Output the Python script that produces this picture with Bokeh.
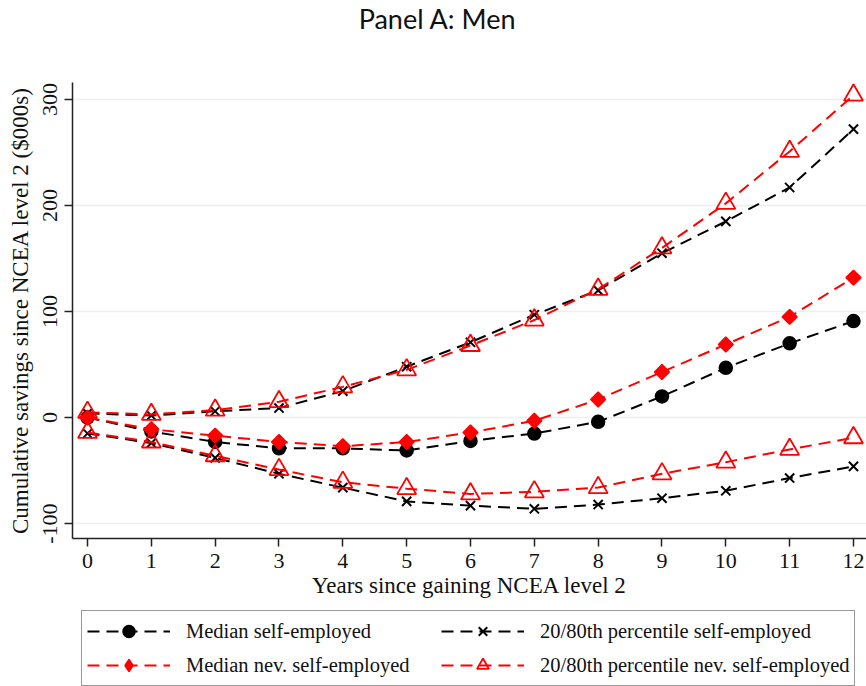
import math
from bokeh.plotting import figure
from bokeh.layouts import column
from bokeh.models import Legend, LegendItem, Range1d, FixedTicker, Label
from bokeh.embed import file_html
from bokeh.resources import INLINE

# ---- data ($000s) ----
years = list(range(13))
x_ticks = list(range(13))
y_ticks = [-100, 0, 100, 200, 300]

median_self = [0, -13, -23, -29, -29, -31, -22, -15, -4, 20, 47, 70, 91]
median_never = [0, -11, -17, -23, -27, -23, -14, -3, 17, 43, 69, 95, 132]
p80_self = [4, 2, 6, 9, 25, 48, 71, 97, 120, 155, 185, 217, 272]
p20_self = [-15, -24, -38, -53, -66, -79, -83, -86, -82, -76, -69, -57, -46]
p80_never = [5, 3, 7, 15, 29, 45, 68, 92, 121, 160, 202, 251, 304]
p20_never = [-14, -23, -36, -49, -61, -67, -72, -70, -66, -53, -42, -30, -19]

title_text = "Panel A: Men"
labels = [
    "Median self-employed",
    "20/80th percentile self-employed",
    "Median nev. self-employed",
    "20/80th percentile nev. self-employed",
]

BLACK = "#000000"
RED = "#ff0000"
SERIF = "Liberation Serif"
DASH = "12 7"
W = 866

STY_MED_SELF = dict(color=BLACK, marker="circle", size=13, filled=True, angle=0.0, lw=1.5)
STY_PCT_SELF = dict(color=BLACK, marker="x", size=13, filled=True, angle=0.0, lw=2)
STY_MED_NEV = dict(color=RED, marker="square", size=10.5, filled=True, angle=math.pi / 4, lw=1.5)
STY_PCT_NEV = dict(color=RED, marker="triangle", size=19, filled=False, angle=0.0, lw=1.8)
# legend glyphs are drawn unrotated, so the diamond uses Bokeh's diamond marker there
STY_MED_NEV_KEY = dict(STY_MED_NEV, marker="diamond", angle=0.0)


def draw(fig, xs, ys, sty):
    ln = fig.line(xs, ys, line_color=sty["color"], line_width=2, line_dash=DASH)
    sc = fig.scatter(
        xs, ys, marker=sty["marker"], size=sty["size"], angle=sty["angle"],
        line_color=sty["color"], line_width=sty["lw"],
        fill_color=sty["color"] if sty["filled"] else None,
    )
    return [ln, sc]


# ---------------- title strip ----------------
tf = figure(
    width=W, height=40, output_backend="svg", toolbar_location=None,
    x_range=Range1d(0, 1), y_range=Range1d(0, 1),
    x_axis_type=None, y_axis_type=None, min_border=0,
)
tf.grid.visible = False
tf.outline_line_color = None
tf.add_layout(Label(
    x=365, y=22, x_units="screen", y_units="screen", text=title_text,
    text_font="Lato", text_font_size="27px", text_align="center",
    text_baseline="alphabetic", text_color="#111111",
))

# ---------------- main chart ----------------
p = figure(
    width=W, height=570,
    output_backend="svg", toolbar_location=None,
    x_range=Range1d(-0.235, 12.204), y_range=Range1d(-114, 316),
    min_border_left=72, min_border_right=0, min_border_top=42, min_border_bottom=72,
    background_fill_color="white", border_fill_color="white",
)
p.outline_line_color = None

p.xgrid.visible = False
p.ygrid.ticker = FixedTicker(ticks=y_ticks)
p.ygrid.grid_line_color = "#eaf1f3"
p.ygrid.grid_line_width = 1.5

for ax in (p.xaxis[0], p.yaxis[0]):
    ax.axis_line_color = "#222222"
    ax.axis_line_width = 1.5
    ax.major_tick_line_color = "#222222"
    ax.major_tick_line_width = 1.5
    ax.major_tick_out = 8
    ax.major_tick_in = 0
    ax.minor_tick_line_color = None
    ax.major_label_text_font = SERIF
    ax.major_label_text_font_size = "22px"
    ax.major_label_text_color = "#111111"
    ax.axis_label_text_font = SERIF
    ax.axis_label_text_font_size = "23px"
    ax.axis_label_text_font_style = "normal"
    ax.axis_label_text_color = "#111111"

p.xaxis.ticker = FixedTicker(ticks=x_ticks)
p.yaxis.ticker = FixedTicker(ticks=y_ticks)
p.yaxis.major_label_overrides = {t: str(t) for t in y_ticks}
p.yaxis.major_label_orientation = "vertical"
p.xaxis.axis_label = "Years since gaining NCEA level 2"
p.yaxis.axis_label = "Cumulative savings since NCEA level 2 ($000s)"
p.xaxis.major_label_standoff = 7
p.xaxis.axis_label_standoff = 2
p.yaxis.major_label_standoff = 7
p.yaxis.axis_label_standoff = 8

draw(p, years, median_self, STY_MED_SELF)
draw(p, years, p80_self, STY_PCT_SELF)
draw(p, years, p20_self, STY_PCT_SELF)
draw(p, years, median_never, STY_MED_NEV)
draw(p, years, p80_never, STY_PCT_NEV)
draw(p, years, p20_never, STY_PCT_NEV)

# ---------------- legend strip ----------------
# the same series are drawn here but outside the visible ranges, only so the
# legend has renderers to sample its glyphs from
lf = figure(
    width=W, height=76, output_backend="svg", toolbar_location=None,
    x_range=Range1d(100, 101), y_range=Range1d(1000, 1001),
    x_axis_type=None, y_axis_type=None, min_border=0,
)
lf.grid.visible = False
lf.outline_line_color = None

k_med_self = draw(lf, years, median_self, STY_MED_SELF)
k_pct_self = draw(lf, years, p80_self, STY_PCT_SELF)
k_med_nev = draw(lf, years, median_never, STY_MED_NEV_KEY)
k_pct_nev = draw(lf, years, p80_never, STY_PCT_NEV)

legend = Legend(
    items=[
        LegendItem(label=labels[0], renderers=k_med_self),
        LegendItem(label=labels[2], renderers=k_med_nev),
        LegendItem(label=labels[1], renderers=k_pct_self),
        LegendItem(label=labels[3], renderers=k_pct_nev),
    ],
    ncols=2,
    location=(9, 0),
    glyph_width=83, glyph_height=30, label_height=30,
    label_width=251,
    label_text_font=SERIF, label_text_font_size="20.5px", label_text_color="#111111",
    label_standoff=16,
    border_line_color="#333333", border_line_width=1,
    padding=5, spacing=4, margin=0,
    background_fill_color="white", background_fill_alpha=1,
)
lf.add_layout(legend, "center")

layout = column(tf, p, lf, spacing=0)
open("out.html", "w").write(file_html(layout, INLINE))
